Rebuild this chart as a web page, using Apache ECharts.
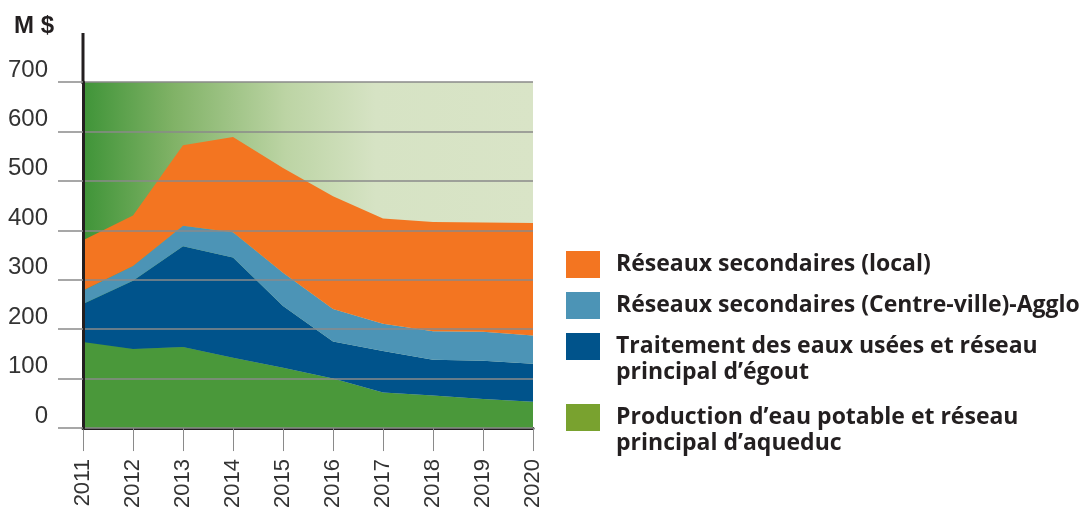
<!DOCTYPE html>
<html>
<head>
<meta charset="utf-8">
<script src="https://cdn.jsdelivr.net/npm/echarts@6/dist/echarts.min.js"></script>
<style>
    html, body { margin: 0; padding: 0; background: #fff; }
    #chart { width: 1087px; height: 511px; }
</style>
</head>
<body>
<div id="chart"></div>
<script>
    // années
    var years = ['2011', '2012', '2013', '2014', '2015', '2016', '2017', '2018', '2019', '2020'];
    // M$ par catégorie (empilées, du bas vers le haut)
    var eauPotable = [174, 160, 164, 142, 122, 100, 72, 66, 59, 53];
    var egout = [77, 138, 204, 203, 125, 75, 84, 72, 77, 77];
    var centreVille = [27, 30, 41, 51, 67, 66, 55, 58, 59, 57];
    var local = [102, 102, 163, 193, 212, 228, 213, 221, 221, 228];

    // libellés de légende, une ligne par entrée
    var labelLocal = ['Réseaux secondaires (local)'];
    var labelCentre = ['Réseaux secondaires (Centre-ville)-Agglo'];
    var labelEgout = ['Traitement des eaux usées et réseau', 'principal d’égout'];
    var labelEau = ['Production d’eau potable et réseau', 'principal d’aqueduc'];

    var legendFont = '"Open Sans", "DejaVu Sans", sans-serif';
    var axisFont = '"Liberation Sans", Arial, sans-serif';

    var myChart = echarts.init(document.getElementById('chart'));

    function makeSeries(lines, data, color) {
        return {
            name: lines.join(' '),
            type: 'line',
            stack: 'total',
            data: data,
            symbol: 'none',
            lineStyle: { width: 0 },
            areaStyle: { color: color, opacity: 1 },
            z: 2
        };
    }

    function makeLegend(lines, color, top) {
        return {
            left: 566,
            top: top,
            padding: 0,
            itemWidth: 34,
            itemHeight: 27,
            icon: 'rect',
            selectedMode: false,
            data: [{ name: lines.join(' '), itemStyle: { color: color } }],
            formatter: function () { return lines[0]; },
            textStyle: {
                fontFamily: legendFont,
                fontSize: 23,
                fontWeight: 'bold',
                color: '#231f20',
                padding: [0, 0, 0, 11]
            }
        };
    }

    function secondLine(lines, top) {
        return {
            type: 'text',
            left: 616,
            top: top,
            style: {
                text: lines[1],
                font: 'bold 23px ' + legendFont,
                fill: '#231f20'
            }
        };
    }

    myChart.setOption({
        animation: false,
        backgroundColor: '#fff',
        title: {
            text: 'M $',
            left: 9,
            top: 9,
            textStyle: { fontFamily: axisFont, fontSize: 24, fontWeight: 'bold', color: '#231f20' }
        },
        legend: [
            makeLegend(labelLocal, '#f37521', 251),
            makeLegend(labelCentre, '#4c94b6', 292),
            makeLegend(labelEgout, '#00538b', 333),
            makeLegend(labelEau, '#79a22f', 404)
        ],
        graphic: [
            secondLine(labelEgout, 361),
            secondLine(labelEau, 432),
            {
                // prolongement de l'axe vertical au-dessus de 700
                type: 'line',
                shape: { x1: 83, y1: 33, x2: 83, y2: 84 },
                style: { stroke: '#231f20', lineWidth: 3 }
            }
        ],
        grid: {
            left: 83,
            right: 554,
            top: 82,
            bottom: 80,
            show: true,
            borderWidth: 0,
            backgroundColor: new echarts.graphic.LinearGradient(0, 0, 1, 0, [
                { offset: 0, color: '#3f9438' },
                { offset: 0.2, color: '#80b266' },
                { offset: 0.45, color: '#bcd4a4' },
                { offset: 0.65, color: '#d6e3c4' },
                { offset: 1, color: '#d9e4c7' }
            ])
        },
        xAxis: {
            type: 'category',
            data: years,
            boundaryGap: false,
            axisLine: { lineStyle: { color: '#231f20', width: 3 } },
            axisTick: { length: 23, lineStyle: { color: '#8a8a8a', width: 1 } },
            axisLabel: {
                rotate: 90,
                margin: 31,
                fontFamily: axisFont,
                fontSize: 22,
                color: '#333'
            }
        },
        yAxis: {
            type: 'value',
            min: 0,
            max: 700,
            interval: 100,
            z: 5,
            axisLine: { show: true, lineStyle: { color: '#231f20', width: 3 } },
            axisTick: { show: true, length: 25, lineStyle: { color: '#8a8a8a', width: 1.5 } },
            splitLine: { lineStyle: { color: '#8a8a8a', width: 1.5 } },
            axisLabel: {
                margin: 35,
                fontFamily: axisFont,
                fontSize: 24,
                color: '#333',
                verticalAlign: 'bottom'
            }
        },
        series: [
            makeSeries(labelEau, eauPotable, '#4a983a'),
            makeSeries(labelEgout, egout, '#00538b'),
            makeSeries(labelCentre, centreVille, '#4c94b6'),
            makeSeries(labelLocal, local, '#f37521')
        ]
    });
</script>
</body>
</html>
